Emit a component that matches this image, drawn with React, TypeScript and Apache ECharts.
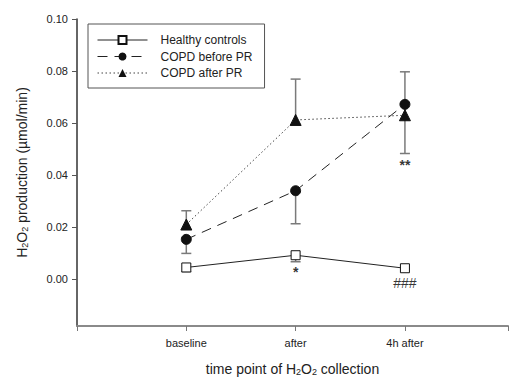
import React, { useEffect, useRef } from "react";
import * as echarts from "echarts";

const categories = ["baseline", "after", "4h after"];
const categoryPos = [1, 2, 3];

const healthy = [0.0045, 0.0092, 0.0042];
const healthyErr = [0.0029, 0.0067, null];

const copdBefore = [0.0153, 0.034, 0.0672];
const copdBeforeErr = [0.0099, 0.0213, 0.0483];

const copdAfter = [0.021, 0.0612, 0.063];
const copdAfterErr = [0.0263, 0.0769, 0.0797];

const yTicks = [0, 0.02, 0.04, 0.06, 0.08, 0.1];

const annotX = [2, 3, 3];
const annotY = [0.0028, 0.0437, -0.0015];
const annotText = ["*", "**", "###"];

const FONT = "'Liberation Sans', Arial, sans-serif";

export default function App() {
  const ref = useRef<HTMLDivElement>(null);
  useEffect(() => {
    document.body.style.margin = "0";
    if (!ref.current) return;
    const chart = echarts.init(ref.current, undefined, { renderer: "svg" });

    const errData: any[] = [];
    const addErr = (vals: number[], errs: (number | null)[]) => {
      vals.forEach((v, i) => {
        const e = errs[i];
        if (e !== null && e !== undefined) errData.push([categoryPos[i], v, e]);
      });
    };
    addErr(healthy, healthyErr);
    addErr(copdBefore, copdBeforeErr);
    addErr(copdAfter, copdAfterErr);

    const pts = (vals: number[]) => vals.map((v, i) => [categoryPos[i], v]);

    chart.setOption({
      animation: false,
      textStyle: { fontFamily: FONT },
      grid: { left: 77, top: 19, right: 1, bottom: 51, containLabel: false, outerBoundsMode: "none" },
      legend: {
        orient: "vertical",
        left: 88,
        top: 24,
        data: ["Healthy controls", "COPD before PR", "COPD after PR"],
        itemWidth: 50,
        itemHeight: 10,
        itemGap: 4.5,
        padding: [10, 12, 9, 9],
        borderColor: "#555",
        borderWidth: 1,
        lineStyle: { width: 1 },
        textStyle: { fontSize: 12, color: "#222", fontFamily: FONT, padding: [0, 0, 0, 8] },
      },
      xAxis: {
        type: "value",
        position: "bottom",
        min: 0,
        max: 3.943,
        interval: 1,
        axisLine: { show: true, onZero: false, lineStyle: { color: "#8a8a8a", width: 2 } },
        axisTick: {
          show: true,
          length: 5,
          lineStyle: { color: "#777" },
        },
        axisLabel: {
          formatter: (v: number) => {
            const i = categoryPos.indexOf(v);
            return i >= 0 ? categories[i] : "";
          },
          fontSize: 11,
          color: "#222",
          margin: 11,
        },
        splitLine: { show: false },
        name: "time point of {a|H}{s|2}{a|O}{s|2}{a| collection}",
        nameLocation: "middle",
        nameGap: 35,
        nameTextStyle: {
          fontSize: 14,
          color: "#222",
          rich: {
            a: { fontSize: 14, color: "#222", fontFamily: FONT },
            s: { fontSize: 9, color: "#222", fontFamily: FONT, verticalAlign: "bottom", padding: [6, 0, 0, 0] },
          },
        },
      },
      yAxis: {
        type: "value",
        min: -0.018,
        max: 0.1,
        axisLine: { show: true, onZero: false, lineStyle: { color: "#333", width: 1.5 } },
        axisTick: { show: true, inside: false, length: 5, lineStyle: { color: "#555" }, customValues: yTicks },
        axisLabel: {
          customValues: yTicks,
          formatter: (v: number) => v.toFixed(2),
          fontSize: 11,
          color: "#222",
          margin: 9,
        },
        splitLine: { show: false },
        name: "{a|H}{s|2}{a|O}{s|2}{a| production (µmol/min)}",
        nameLocation: "middle",
        nameGap: 48,
        nameTextStyle: {
          fontSize: 14,
          color: "#222",
          rich: {
            a: { fontSize: 14, color: "#222", fontFamily: FONT },
            s: { fontSize: 9, color: "#222", fontFamily: FONT, verticalAlign: "bottom", padding: [6, 0, 0, 0] },
          },
        },
      },
      series: [
        {
          type: "custom",
          name: "err",
          z: 1,
          silent: true,
          data: errData,
          encode: { x: 0, y: [1, 2] },
          renderItem: (params: any, api: any) => {
            const x = api.value(0);
            const p0 = api.coord([x, api.value(1)]);
            const p1 = api.coord([x, api.value(2)]);
            const hw = 5;
            const st = { stroke: "#7a7a7a", lineWidth: 1.5 };
            return {
              type: "group",
              children: [
                { type: "line", shape: { x1: p0[0], y1: p0[1], x2: p1[0], y2: p1[1] }, style: st },
                { type: "line", shape: { x1: p1[0] - hw, y1: p1[1], x2: p1[0] + hw, y2: p1[1] }, style: st },
              ],
            };
          },
        },
        {
          type: "line",
          name: "Healthy controls",
          z: 3,
          data: pts(healthy),
          symbol: "rect",
          symbolSize: 9,
          itemStyle: { color: "#fff", borderColor: "#111", borderWidth: 1 },
          lineStyle: { color: "#222", width: 1, type: "solid" },
        },
        {
          type: "line",
          name: "COPD before PR",
          z: 3,
          data: pts(copdBefore),
          symbol: "circle",
          symbolSize: 10,
          itemStyle: { color: "#111", borderColor: "#111" },
          lineStyle: { color: "#222", width: 1, type: [10, 7] },
        },
        {
          type: "line",
          name: "COPD after PR",
          z: 3,
          data: pts(copdAfter),
          symbol: "triangle",
          symbolSize: 11,
          itemStyle: { color: "#111", borderColor: "#111" },
          lineStyle: { color: "#444", width: 1, type: [1.5, 2.5] },
        },
        {
          type: "scatter",
          name: "annot",
          z: 4,
          silent: true,
          symbolSize: 0,
          data: annotX.map((x, i) => ({
            value: [x, annotY[i]],
            name: annotText[i],
            label: { fontWeight: annotText[i].indexOf("#") >= 0 ? "normal" : "bold" },
          })),
          label: {
            show: true,
            position: "inside",
            formatter: (p: any) => p.name,
            fontSize: 14,
            color: "#000",
          },
        },
      ],
    });
    return () => chart.dispose();
  }, []);
  return <div ref={ref} style={{ width: 509, height: 377 }} />;
}
